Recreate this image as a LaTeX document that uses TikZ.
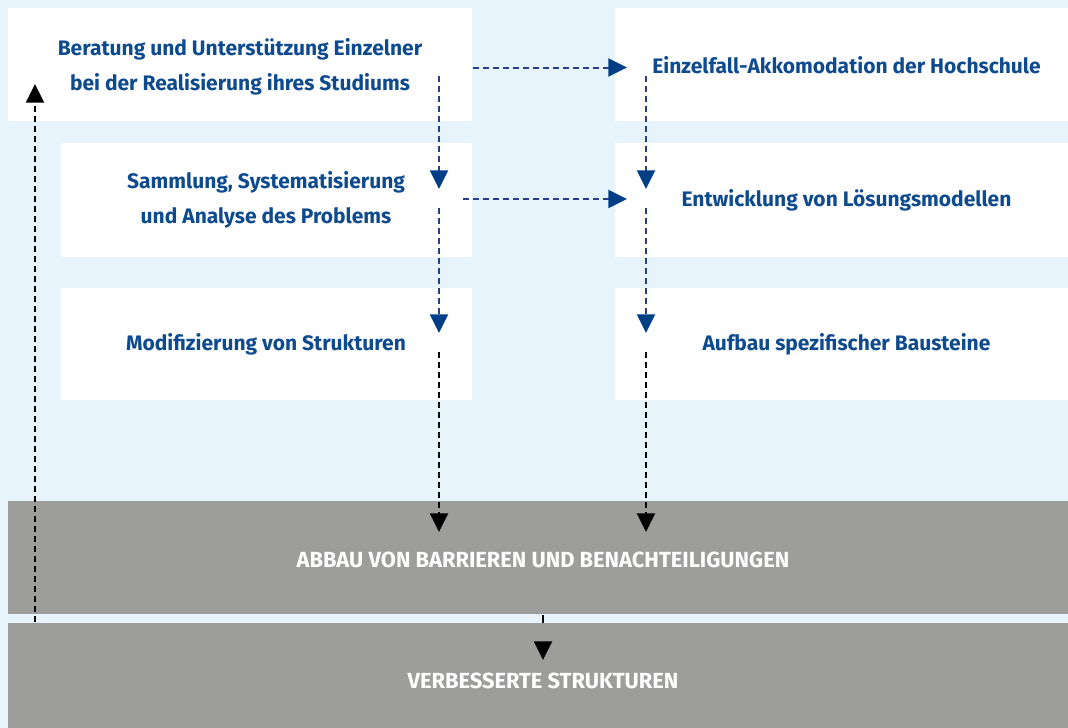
\documentclass[tikz,border=0pt]{standalone}
\usepackage{fontspec}
\setmainfont{Fira Sans}
\usetikzlibrary{arrows.meta}
\definecolor{bgblue}{HTML}{E8F4FC}
\definecolor{bargray}{HTML}{9D9D9C}
\definecolor{txtblue}{HTML}{0D4A8E}
\definecolor{tipblue}{HTML}{003F88}
\definecolor{dashblue}{HTML}{2A3C8C}
\begin{document}
\begin{tikzpicture}[x=0.75pt,y=-0.75pt,
  whitebox/.style={fill=white,draw=none,inner sep=0pt,anchor=north west},
  graybar/.style={fill=bargray,draw=none,inner sep=0pt,anchor=north west},
  btext/.style={text=txtblue,font=\fontsize{15.75}{26}\selectfont\bfseries,align=center,inner sep=0pt,anchor=base},
  wtext/.style={text=white,font=\fontsize{16.4}{26}\selectfont\bfseries,inner sep=0pt,anchor=base},
  bluearrow/.style={draw=dashblue,line width=1.5pt,dash pattern=on 4.5pt off 3pt,
    -{Triangle[width=13.5pt,length=14pt,color=tipblue]}},
  blackarrow/.style={draw=black,line width=1.5pt,dash pattern=on 4.5pt off 3pt,
    -{Triangle[width=13.5pt,length=14pt,color=black]}}]
\useasboundingbox (0,0) rectangle (1068,728);
\fill[bgblue] (0,0) rectangle (1068,728);
% boxes
\node[whitebox,minimum width=348pt,minimum height=84.75pt] (b1) at (8,8) {};
\node[whitebox,minimum width=339.75pt,minimum height=84.75pt] (b2) at (615,8) {};
\node[whitebox,minimum width=308.25pt,minimum height=85.5pt] (b3) at (61,143) {};
\node[whitebox,minimum width=339.75pt,minimum height=85.5pt] (b4) at (615,143) {};
\node[whitebox,minimum width=308.25pt,minimum height=84pt] (b5) at (61,288) {};
\node[whitebox,minimum width=339.75pt,minimum height=84pt] (b6) at (615,288) {};
\node[graybar,minimum width=795pt,minimum height=84.75pt] (g1) at (8,501) {};
\node[graybar,minimum width=795pt,minimum height=78.75pt] (g2) at (8,623) {};
% texts (base anchor = baseline of the last line)
\node[btext] (t1) at (240,90) {Beratung und Unterstützung Einzelner\\bei der Realisierung ihres Studiums};
\node[btext] (t2) at (846.5,73) {Einzelfall-Akkomodation der Hochschule};
\node[btext] (t3) at (266,223) {Sammlung, Systematisierung\\und Analyse des Problems};
\node[btext] (t4) at (846.5,206) {Entwicklung von Lösungsmodellen};
\node[btext] (t5) at (266,350) {Modifizierung von Strukturen};
\node[btext] (t6) at (846.5,350) {Aufbau spezifischer Bausteine};
\node[wtext] (t7) at (543,567) {ABBAU VON BARRIEREN UND BENACHTEILIGUNGEN};
\node[wtext] (t8) at (543,688) {VERBESSERTE STRUKTUREN};
% connector end points
\coordinate (h1s) at (473,67.5);
\coordinate (h1e) at (627,67.5);
\coordinate (h2s) at (463,199);
\coordinate (h2e) at (627,199);
\coordinate (l1s) at (439,76);
\coordinate (l1e) at (439,189);
\coordinate (l2s) at (439,208);
\coordinate (l2e) at (439,333);
\coordinate (l3s) at (439,352);
\coordinate (l3e) at (439,532);
\coordinate (r1s) at (646,76);
\coordinate (r1e) at (646,189);
\coordinate (r2s) at (646,208);
\coordinate (r2e) at (646,333);
\coordinate (r3s) at (646,352);
\coordinate (r3e) at (646,532);
\coordinate (ups) at (35,622);
\coordinate (upe) at (35,84);
\coordinate (ms) at (543,615);
\coordinate (me) at (543,660);
% connectors
\draw[bluearrow] (h1s) -- (h1e);
\draw[bluearrow] (h2s) -- (h2e);
\draw[bluearrow] (l1s) -- (l1e);
\draw[bluearrow] (l2s) -- (l2e);
\draw[bluearrow] (r1s) -- (r1e);
\draw[bluearrow] (r2s) -- (r2e);
\draw[blackarrow] (l3s) -- (l3e);
\draw[blackarrow] (r3s) -- (r3e);
\draw[blackarrow] (ups) -- (upe);
\draw[blackarrow,dash pattern=on 6pt off 30pt] (ms) -- (me);
\end{tikzpicture}
\end{document}
